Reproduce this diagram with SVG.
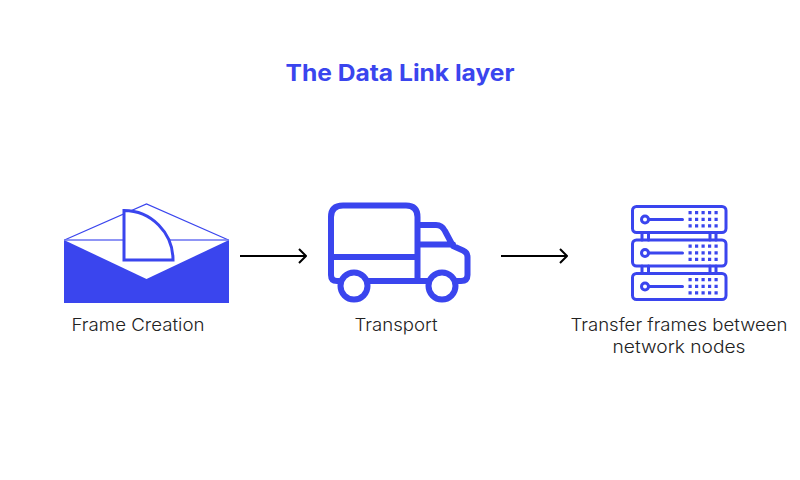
<svg xmlns="http://www.w3.org/2000/svg" width="800" height="480" viewBox="0 0 800 480">
<style>
text{font-family:"Inter","Liberation Sans",sans-serif}
.title{font-size:23px;font-weight:700;fill:#3a45ee}
.lab{font-size:17.5px;fill:#222;text-anchor:middle;font-weight:300}
.ic{fill:none;stroke:#3a45ee;stroke-width:6;stroke-linejoin:round;stroke-linecap:round}
.wh{fill:#fff;stroke:#3a45ee;stroke-width:6}
.sv{fill:none;stroke:#3a45ee;stroke-width:3;stroke-linejoin:round;stroke-linecap:round}
.dot{fill:#3a45ee}
.arr{fill:none;stroke:#000;stroke-width:2;stroke-linejoin:round}
</style>
<rect width="800" height="480" fill="#fff"/>
<text class="title" x="400" y="81" text-anchor="middle" textLength="229" lengthAdjust="spacingAndGlyphs">The Data Link layer</text>
<g id="frame-creation">
<path d="M64 240H229V303H64Z" fill="#3a45ee"/>
<path d="M64 240L146.500 279L229 240Z" fill="#fff"/>
<path d="M64.500 240L146.500 204L228.500 240" fill="none" stroke="#3a45ee" stroke-width="1.200"/>
<path d="M64 240H229" stroke="#6a72f2" stroke-width="1.500"/>
<path d="M124 210.500A49 49.500 0 0 1 173 260H124Z" fill="#fff" stroke="#3a45ee" stroke-width="3"/>
<text class="lab" x="138" y="331" textLength="133" lengthAdjust="spacingAndGlyphs">Frame Creation</text>
</g>
<g id="transport">
<path class="ic" d="M339 281H337Q331 281 331 275V217Q331 205.500 343 205.500H406Q417.500 205.500 417.500 217V281M341 281H417.500M417.500 257H331M417.500 225H436Q442 225 445 231L453 246L463 250.500Q467.500 252.500 467.500 257V275Q467.500 281 461 281H455M417.500 244.500H453M417.500 281H429"/>
<circle class="wh" cx="354" cy="286" r="13.500"/>
<circle class="wh" cx="442" cy="286" r="13.500"/>
<text class="lab" x="396" y="331" textLength="83" lengthAdjust="spacingAndGlyphs">Transport</text>
</g>
<g id="transfer">
<rect class="sv" x="632.500" y="206.500" width="93.500" height="26" rx="4"/>
<rect class="sv" x="632.500" y="240" width="93.500" height="26" rx="4"/>
<rect class="sv" x="632.500" y="273.500" width="93.500" height="26" rx="4"/>
<path class="sv" d="M642 232.500V240M648.500 232.500V240M710 232.500V240M716 232.500V240M642 266V273.500M648.500 266V273.500M710 266V273.500M716 266V273.500"/>
<path class="sv" d="M649 219.500H682.500M649 253H682.500M649 286.500H682.500"/>
<circle class="sv" cx="645" cy="219.500" r="3.500"/>
<circle class="sv" cx="645" cy="253" r="3.500"/>
<circle class="sv" cx="645" cy="286.500" r="3.500"/>
<g class="dot">
<path id="d" d="M688.500 211h3.200v3.200h-3.200zM695 211h3.200v3.200h-3.200zM701.500 211h3.200v3.200h-3.200zM708 211h3.200v3.200h-3.200zM714.500 211h3.200v3.200h-3.200zM688.500 217.800h3.200v3.200h-3.200zM695 217.800h3.200v3.200h-3.200zM701.500 217.800h3.200v3.200h-3.200zM708 217.800h3.200v3.200h-3.200zM714.500 217.800h3.200v3.200h-3.200zM688.500 224.300h3.200v3.200h-3.200zM695 224.300h3.200v3.200h-3.200zM701.500 224.300h3.200v3.200h-3.200zM708 224.300h3.200v3.200h-3.200zM714.500 224.300h3.200v3.200h-3.200z"/>
<use href="#d" y="33.500"/>
<use href="#d" y="67"/>
</g>
<text class="lab" x="679" y="331" textLength="217" lengthAdjust="spacingAndGlyphs">Transfer frames between</text>
<text class="lab" x="679" y="353" textLength="133" lengthAdjust="spacingAndGlyphs">network nodes</text>
</g>
<g id="connectors">
<path class="arr" d="M240 256H306M299 249L306 256L299 263"/>
<path class="arr" d="M501 256H567M560 249L567 256L560 263"/>
</g>
</svg>
